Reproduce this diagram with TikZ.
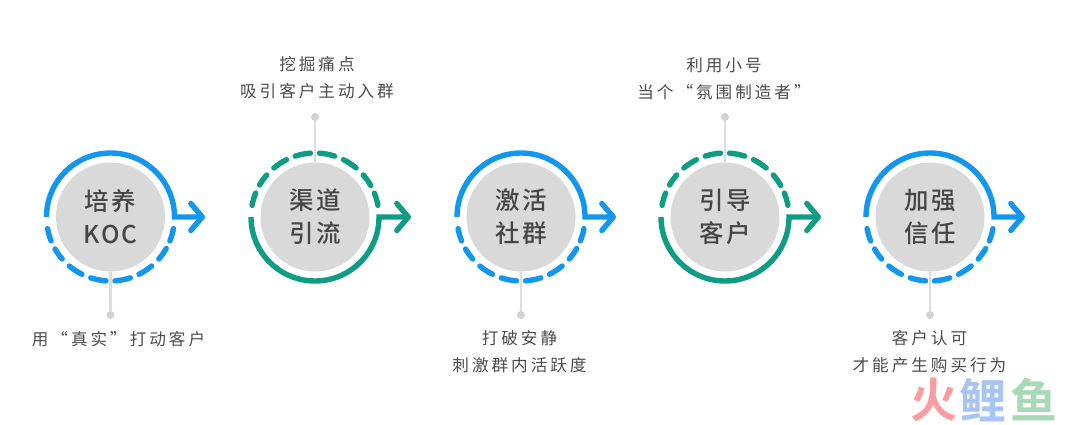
\documentclass[tikz,border=0pt]{standalone}
\usepackage{fontspec}
\usetikzlibrary{arrows.meta}
\setmainfont{Noto Sans CJK SC}
\newfontfamily\medcjk{Noto Sans CJK SC Medium}
\newfontfamily\boldcjk{Noto Sans CJK SC Bold}
\definecolor{ringblue}{HTML}{1296EE}
\definecolor{ringgreen}{HTML}{0E9C82}
\definecolor{disc}{HTML}{D9D9D9}
\definecolor{leader}{HTML}{DCDCDC}
\definecolor{dotgray}{HTML}{D2D2D2}
\definecolor{ink}{HTML}{464646}
\definecolor{capink}{HTML}{4C4C4C}
\definecolor{wmred}{HTML}{FC9CA0}
\definecolor{wmblue}{HTML}{A8C4F5}
\definecolor{wmgreen}{HTML}{A8D8B6}
\tikzset{
  discnode/.style={circle,fill=disc,minimum size=109pt,inner sep=0pt,text=ink,align=center,
    font=\fontsize{24.5}{33}\medcjk\selectfont\addfontfeature{LetterSpace=9}},
  ringsolid/.style={line width=5.4pt,-{Straight Barb[length=11.5pt,width=27pt,round]}},
  ringdash/.style={line width=5.4pt,line cap=round},
  leaderline/.style={draw=leader,line width=2.4pt},
  leaderdot/.style={circle,fill=dotgray,minimum size=8pt,inner sep=0pt},
  caption/.style={text=capink,align=center,inner sep=0pt,
    font=\fontsize{16.6}{27}\selectfont\addfontfeature{LetterSpace=18}},
  wm/.style={inner sep=0pt,font=\fontsize{47}{47}\boldcjk\selectfont}
}
% #1 name, #2 centre x, #3 colour, #4 solid end angle, #5 sign of dashed side, #6 tip x
\newcommand{\ringstep}[6]{%
  \coordinate (#1c) at (#2,207);
  \coordinate (#1tip) at (#6,207);
  \draw[ringsolid,draw=#3] (#2-64,207) arc[start angle=180,end angle=#4,radius=64] -- (#1tip);
  \foreach \a/\b in {10.5/22,30/41,50/63.5,72/86,94/108,116.5/130,139/150.5,158/169.5}
    \draw[ringdash,draw=#3] ({#2+64*cos(180+#5*\a)},{207+64*sin(180+#5*\a)})
      arc[start angle=180+#5*\a,end angle=180+#5*\b,radius=64];
}
\begin{document}
\begin{tikzpicture}[x=1pt,y=1pt]
\useasboundingbox (0,0) rectangle (1080,424);
\fill[white] (0,0) rectangle (1080,424);

\ringstep{a}{110.5}{ringblue}{0}{1}{205}
\ringstep{b}{315}{ringgreen}{360}{-1}{411}
\ringstep{c}{521}{ringblue}{0}{1}{616}
\ringstep{d}{725}{ringgreen}{360}{-1}{821}
\ringstep{e}{930}{ringblue}{0}{1}{1025}

\node[discnode] (a) at (110.5,207) {培养\\KOC};
\node[discnode] (b) at (315,207) {渠道\\引流};
\node[discnode] (c) at (521,207) {激活\\社群};
\node[discnode] (d) at (725,207) {引导\\客户};
\node[discnode] (e) at (930,207) {加强\\信任};

\node[leaderdot] (adot) at (110.5,109) {};
\node[leaderdot] (bdot) at (315,307) {};
\node[leaderdot] (cdot) at (521,109) {};
\node[leaderdot] (ddot) at (725,307) {};
\node[leaderdot] (edot) at (930,109) {};
\draw[leaderline] (a.south) -- (adot);
\draw[leaderline] (b.north) -- (bdot);
\draw[leaderline] (c.south) -- (cdot);
\draw[leaderline] (d.north) -- (ddot);
\draw[leaderline] (e.south) -- (edot);

\node[caption] (acap) at (118.5,85) {用“真实”打动客户};
\node[caption] (bcap) at (317,346) {挖掘痛点\\吸引客户主动入群};
\node[caption] (ccap) at (519.5,72) {打破安静\\刺激群内活跃度};
\node[caption] (dcap) at (724,345) {利用小号\\当个“氛围制造者”};
\node[caption] (ecap) at (929.5,72) {客户认可\\才能产生购买行为};

\node[wm,text=wmred] (w1) at (934,24) {火};
\node[wm,text=wmblue] (w2) at (983,24) {鲤};
\node[wm,text=wmgreen] (w3) at (1034,24) {鱼};
\end{tikzpicture}
\end{document}
